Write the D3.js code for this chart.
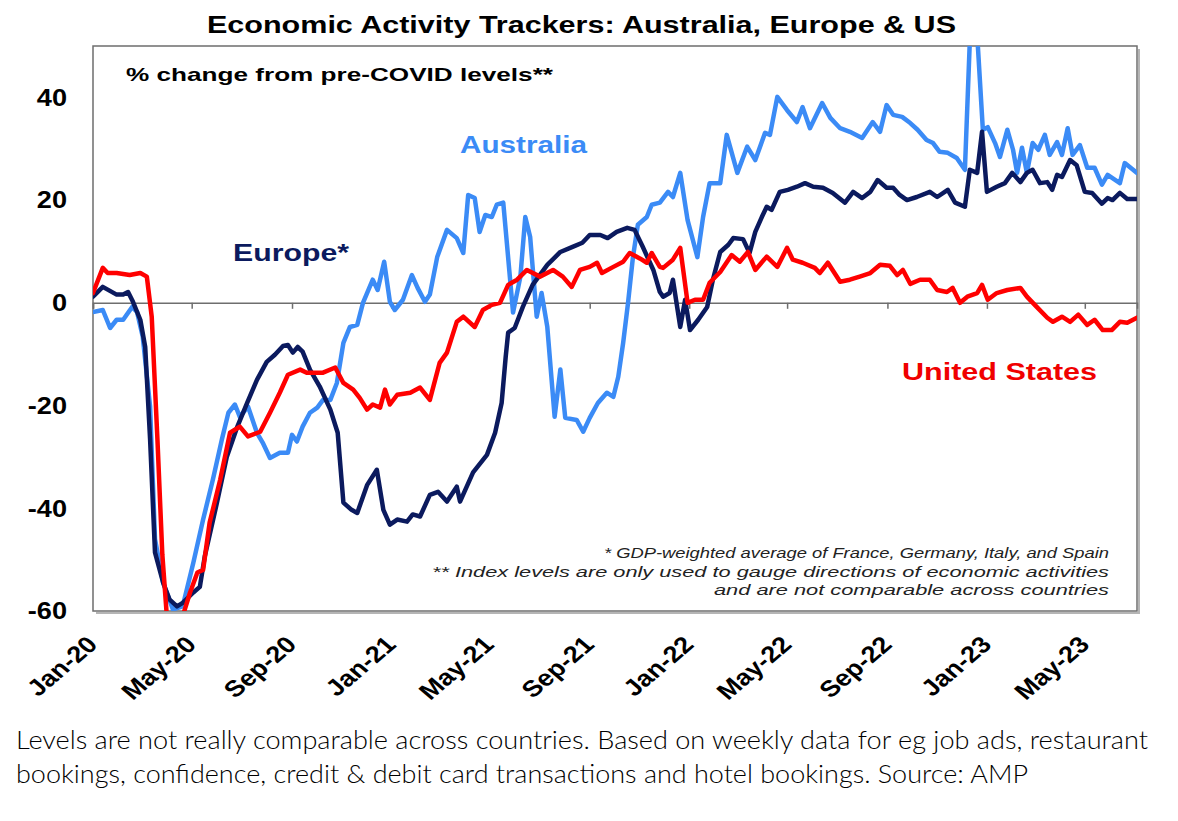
<!DOCTYPE html>
<html>
<head>
<meta charset="utf-8">
<script src="https://cdn.jsdelivr.net/npm/d3@7"></script>
<style>
  body { margin: 0; background: #fff; }
  svg { display: block; font-family: "Liberation Sans", Arial, sans-serif; }
</style>
</head>
<body>
<svg id="chart" width="1178" height="821"></svg>
<script>
// day offsets from 1 Jan 2020, % change from pre-COVID levels
var australia = [
    [0,-1.8],[12,-1.4],[21,-4.9],[29,-3.3],[37,-3.3],[48,-0.8],[54,-1.8],[61,-6.6],[70,-20.2],[76,-46],
    [86,-54.5],[98,-59.7],[110,-59.1],[123,-50.6],[135,-42.2],[147,-34.4],[158,-26.6],[166,-21.4],[174,-19.8],[180,-22.2],
    [190,-20.2],[201,-25.3],[208,-27.2],[217,-30.2],[229,-29.2],[239,-29.2],[244,-25.7],[250,-27],[257,-24.1],[266,-21.4],
    [275,-20.4],[282,-18.9],[291,-18.9],[299,-15.6],[307,-7.8],[315,-4.7],[324,-4.3],[331,0],[343,4.5],[349,2.5],
    [357,8],[364,0.2],[370,-1.4],[380,0.6],[391,5.4],[398,2.9],[407,0.2],[413,1.6],[422,8.9],[434,14.2],
    [446,12.6],[454,9.7],[460,21],[468,20.4],[474,13.8],[481,17.1],[489,16.7],[495,19.1],[503,19.5],[515,-1.9],
    [524,5.1],[530,16.7],[536,12.8],[544,-2.7],[550,1.9],[557,-4.7],[566,-22.2],[573,-13],[579,-22.4],[593,-22.8],
    [601,-25.1],[609,-22.4],[619,-19.5],[630,-17.5],[638,-18.3],[644,-14.4],[650,-7.8],[656,0],[662,8.9],[668,15.2],
    [679,16.7],[685,19.1],[695,19.5],[705,21.6],[711,20.6],[720,25.3],[729,16.1],[741,8.9],[748,16.7],[756,23.3],
    [769,23.3],[777,32.7],[790,25.3],[802,30.4],[812,27.8],[824,33.1],[830,32.7],[839,40.1],[851,37.5],[863,35.2],
    [870,38.1],[879,34],[894,38.9],[904,36],[916,34],[928,33.3],[943,32.1],[956,35.2],[965,33.3],[973,38.5],
    [981,36.6],[992,36.2],[1002,35],[1011,33.7],[1022,31.7],[1030,31.1],[1038,29.4],[1048,29.2],[1059,28.2],[1069,25.9],
    [1076,55],[1083,55],[1091,33.7],[1097,34.2],[1106,31.1],[1112,28.4],[1121,33.7],[1128,29.8],[1133,25.3],[1139,30.2],
    [1145,25.3],[1152,31.1],[1159,29.8],[1167,32.7],[1173,28.8],[1182,31.3],[1188,28.8],[1195,34],[1201,28.8],[1210,30.7],
    [1219,26.3],[1228,26.3],[1237,23],[1244,24.9],[1259,23.3],[1265,27.2],[1280,25.3]
];

var europe = [
    [0,1.2],[12,3.1],[29,1.6],[37,1.6],[43,2.1],[49,0.2],[58,-3.3],[64,-8.6],[70,-26.6],[76,-48.6],
    [86,-54.5],[94,-57.8],[103,-59.1],[110,-58.4],[123,-56.4],[131,-55.3],[137,-49.4],[152,-38.9],[164,-30],[177,-24.1],
    [189,-19.5],[201,-15],[213,-11.5],[223,-10.1],[233,-8.4],[239,-8.2],[245,-9.7],[251,-8.6],[257,-9.5],[266,-13],
    [278,-16.3],[291,-20.8],[300,-25.3],[307,-38.9],[317,-40.3],[324,-40.9],[336,-35.5],[348,-32.5],[356,-40.3],[364,-43.2],
    [373,-42.2],[385,-42.6],[392,-41.2],[401,-41.6],[413,-37.4],[423,-36.8],[434,-38.7],[446,-35.8],[450,-38.7],[466,-33],
    [483,-29.6],[493,-25.3],[501,-19.5],[506,-10.5],[509,-5.8],[517,-4.9],[527,-0.8],[539,3.5],[557,7.4],[573,9.9],
    [588,10.9],[600,11.7],[609,13.2],[622,13.2],[631,12.6],[642,13.8],[655,14.6],[664,14.2],[674,10.9],[687,6.4],
    [695,2.1],[699,1.2],[707,1.9],[711,4.5],[720,-4.7],[726,0.6],[732,-5.3],[742,-3.3],[753,-0.8],[760,4.5],
    [769,9.9],[779,11.3],[785,12.6],[797,12.4],[805,9.7],[812,13.8],[820,16.7],[826,18.7],[832,18.1],[842,21.6],
    [852,22],[863,22.6],[873,23.3],[883,22.6],[895,22.4],[907,21.4],[922,19.5],[932,21.6],[943,20.4],[953,21.6],
    [962,23.9],[973,22.4],[981,22.4],[989,21],[998,20],[1010,20.6],[1026,21.6],[1035,20.6],[1048,22],[1057,19.5],
    [1069,18.7],[1075,25.9],[1084,25.3],[1090,33.3],[1096,21.6],[1108,22.6],[1118,23.3],[1127,25.3],[1137,23.5],[1145,25.3],
    [1152,25.9],[1161,23.3],[1170,23.5],[1176,22],[1182,24.9],[1188,24.5],[1198,27.8],[1206,26.8],[1216,21.6],[1225,21.4],
    [1237,19.3],[1244,20.4],[1250,20],[1259,21.4],[1268,20.2],[1280,20.2]
];

var unitedStates = [
    [0,1.9],[12,6.8],[18,5.8],[29,5.8],[45,5.4],[58,5.8],[66,5.1],[72,-2.7],[79,-26.6],[85,-49],
    [91,-62],[110,-61],[119,-56.4],[128,-52.5],[135,-52],[143,-42.8],[156,-34.4],[168,-25.3],[180,-24.1],[190,-26],
    [205,-25.1],[217,-21.4],[229,-17.5],[239,-14],[254,-13],[262,-13.6],[282,-13.6],[297,-12.6],[307,-15.6],[319,-16.9],
    [327,-18.5],[336,-20.8],[343,-19.8],[352,-20.4],[358,-16.9],[364,-19.8],[373,-17.9],[389,-17.5],[401,-16.5],[413,-18.9],
    [425,-11.7],[434,-9.7],[446,-3.7],[454,-2.7],[468,-4.7],[478,-1.4],[489,-0.4],[499,0],[509,3.5],[520,4.5],
    [532,6.4],[548,5.1],[564,6.4],[576,5.1],[587,3.1],[597,6.4],[609,7],[618,7.8],[624,5.8],[638,7],
    [650,8],[658,9.7],[671,8.6],[679,7.8],[685,9.7],[695,7],[699,6.8],[711,8.4],[720,10.7],[729,0],
    [738,0.6],[748,0.6],[756,3.9],[769,6],[783,9.3],[793,8],[803,9.9],[812,6.4],[826,9],[839,7],
    [851,10.7],[858,8.4],[870,7.8],[885,6.8],[891,5.8],[901,7.8],[916,4.1],[928,4.5],[940,5.1],[953,5.8],
    [965,7.4],[977,7.2],[986,5.4],[993,6.4],[1002,3.7],[1014,4.5],[1026,4.5],[1035,2.5],[1047,2.1],[1054,2.9],
    [1063,0],[1072,1.2],[1084,1.9],[1090,3.5],[1097,0.6],[1108,1.9],[1121,2.5],[1137,2.9],[1145,1.2],[1157,-0.8],
    [1170,-2.9],[1177,-3.7],[1188,-2.7],[1198,-3.7],[1208,-2.3],[1219,-4.3],[1228,-3.3],[1238,-5.3],[1249,-5.3],[1259,-3.7],
    [1268,-3.9],[1280,-2.9]
];

var yTicks = [-60, -40, -20, 0, 20, 40];
var footnotes = [
    "* GDP-weighted average of France, Germany, Italy, and Spain",
    "** Index levels are only used to gauge directions of economic activities",
    "and are not comparable across countries"
];
var caption = [
    "Levels are not really comparable across countries. Based on weekly data for eg job ads, restaurant",
    "bookings, confidence, credit & debit card transactions and hotel bookings. Source: AMP"
];

var start = new Date(2020, 0, 1),
    stretch = 1.18,
    plot = { left: 93, right: 1137, top: 46, bottom: 611 };

function toDate(d) {
    return d3.timeDay.offset(start, d);
}

var svg = d3.select('#chart');

var x = d3.scaleTime()
    .domain([start, toDate(1280)])
    .range([plot.left, plot.right]);

var y = d3.scaleLinear()
    .domain([-60, 50])
    .range([plot.bottom, plot.top]);

svg.append('rect')
    .attr('width', 1178).attr('height', 821)
    .attr('fill', '#fff');

// title
svg.append('text')
    .attr('x', 207).attr('y', 33)
    .attr('font-size', 23).attr('font-weight', 'bold')
    .attr('textLength', 749).attr('lengthAdjust', 'spacingAndGlyphs')
    .text('Economic Activity Trackers: Australia, Europe & US');

// frame shadow + frame
svg.append('path')
    .attr('d', 'M' + (plot.right + 2) + ',' + (plot.top + 3) + 'V' + (plot.bottom + 2) + 'H' + (plot.left + 3))
    .attr('fill', 'none').attr('stroke', '#b5b5b5').attr('stroke-width', 2);

svg.append('rect')
    .attr('x', plot.left).attr('y', plot.top)
    .attr('width', plot.right - plot.left).attr('height', plot.bottom - plot.top)
    .attr('fill', '#fff').attr('stroke', '#6e6e6e').attr('stroke-width', 1.5);

svg.append('clipPath').attr('id', 'clip')
    .append('rect')
    .attr('x', plot.left).attr('y', plot.top)
    .attr('width', plot.right - plot.left).attr('height', plot.bottom - plot.top);

// zero line with ticks
var xAxis = d3.axisBottom(x)
    .ticks(d3.timeMonth.every(4))
    .tickSize(6)
    .tickFormat('');

var zero = svg.append('g')
    .attr('transform', 'translate(0,' + y(0) + ')')
    .call(xAxis);
zero.select('.domain').attr('stroke', '#6e6e6e').attr('stroke-width', 1.5);
zero.selectAll('.tick line').attr('stroke', '#6e6e6e').attr('stroke-width', 1.5);

// y labels
svg.selectAll('.ylab')
    .data(yTicks)
    .enter().append('text')
    .attr('class', 'ylab')
    .attr('transform', function (d) { return 'translate(67,' + y(d) + ') scale(' + stretch + ',1)'; })
    .attr('dy', '0.36em')
    .attr('text-anchor', 'end')
    .attr('font-size', 23).attr('font-weight', 'bold')
    .text(function (d) { return d; });

// x labels
var fmt = d3.timeFormat('%b-%y');
svg.selectAll('.xlab')
    .data(x.ticks(d3.timeMonth.every(4)))
    .enter().append('text')
    .attr('class', 'xlab')
    .attr('transform', function (d) {
        return 'translate(' + (x(d) + 6) + ',646) scale(' + stretch + ',1) rotate(-45)';
    })
    .attr('text-anchor', 'end')
    .attr('font-size', 23).attr('font-weight', 'bold')
    .text(fmt);

// series
var line = d3.line()
    .x(function (d) { return x(toDate(d[0])); })
    .y(function (d) { return y(d[1]); });

var lines = svg.append('g').attr('clip-path', 'url(#clip)');

[[australia, '#3b8bf6'], [europe, '#0b1a5e'], [unitedStates, '#ff0000']].forEach(function (s) {
    lines.append('path')
        .datum(s[0])
        .attr('d', line)
        .attr('fill', 'none')
        .attr('stroke', s[1])
        .attr('stroke-width', 4.5)
        .attr('stroke-linejoin', 'round')
        .attr('stroke-linecap', 'round');
});

// labels inside plot
svg.append('text')
    .attr('x', 126).attr('y', 81)
    .attr('font-size', 19).attr('font-weight', 'bold')
    .attr('textLength', 427).attr('lengthAdjust', 'spacingAndGlyphs')
    .text('% change from pre-COVID levels**');

svg.append('text')
    .attr('x', 460).attr('y', 153)
    .attr('font-size', 23).attr('font-weight', 'bold').attr('fill', '#3b8bf6')
    .attr('textLength', 127).attr('lengthAdjust', 'spacingAndGlyphs')
    .text('Australia');

svg.append('text')
    .attr('x', 233).attr('y', 261)
    .attr('font-size', 23).attr('font-weight', 'bold').attr('fill', '#0b1a5e')
    .attr('textLength', 116).attr('lengthAdjust', 'spacingAndGlyphs')
    .text('Europe*');

svg.append('text')
    .attr('x', 902).attr('y', 380)
    .attr('font-size', 23).attr('font-weight', 'bold').attr('fill', '#f00000')
    .attr('textLength', 195).attr('lengthAdjust', 'spacingAndGlyphs')
    .text('United States');

var footWidths = [505, 677, 395];
svg.selectAll('.foot')
    .data(footnotes)
    .enter().append('text')
    .attr('class', 'foot')
    .attr('x', 1109)
    .attr('y', function (d, i) { return 558 + i * 18.5; })
    .attr('text-anchor', 'end')
    .attr('font-size', 15.5).attr('font-style', 'italic').attr('fill', '#222')
    .attr('textLength', function (d, i) { return footWidths[i]; })
    .attr('lengthAdjust', 'spacingAndGlyphs')
    .text(function (d) { return d; });

// caption
var capWidths = [1132, 1012];
svg.selectAll('.cap')
    .data(caption)
    .enter().append('text')
    .attr('class', 'cap')
    .attr('x', 16)
    .attr('y', function (d, i) { return 749 + i * 34; })
    .attr('font-family', 'Lato, "Open Sans", sans-serif')
    .attr('font-weight', 300)
    .attr('font-size', 25)
    .attr('textLength', function (d, i) { return capWidths[i]; })
    .attr('lengthAdjust', 'spacingAndGlyphs')
    .text(function (d) { return d; });
</script>
</body>
</html>
